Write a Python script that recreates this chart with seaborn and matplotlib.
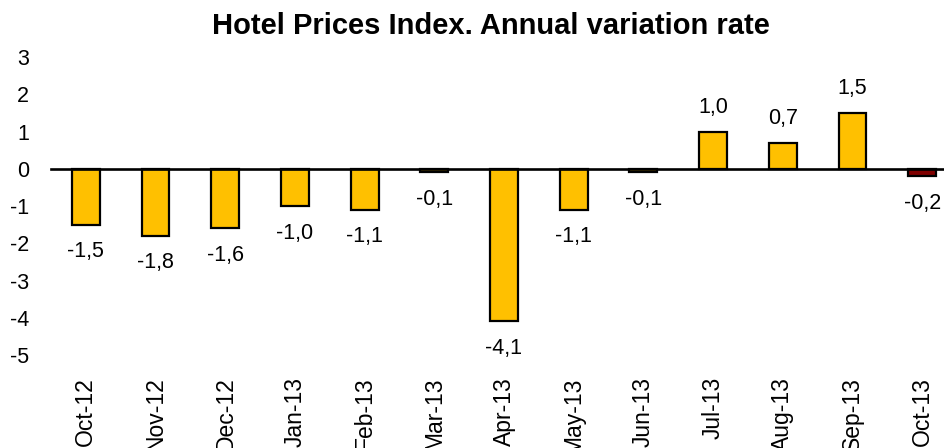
import matplotlib
matplotlib.use('Agg')
import matplotlib.pyplot as plt
import seaborn as sns
import pandas as pd

months = ['Oct-12', 'Nov-12', 'Dec-12', 'Jan-13', 'Feb-13', 'Mar-13', 'Apr-13',
          'May-13', 'Jun-13', 'Jul-13', 'Aug-13', 'Sep-13', 'Oct-13']
rates = [-1.5, -1.8, -1.6, -1.0, -1.1, -0.1, -4.1, -1.1, -0.1, 1.0, 0.7, 1.5, -0.2]
bar_cols = ['#FFC000'] * 12 + ['#800000']
yticks = [-5, -4, -3, -2, -1, 0, 1, 2, 3]

df = pd.DataFrame({'month': months, 'rate': rates})

sns.set_style('white')
plt.rcParams['font.family'] = ['Liberation Sans', 'DejaVu Sans']
plt.rcParams['text.color'] = 'black'
plt.rcParams['xtick.color'] = 'black'
plt.rcParams['ytick.color'] = 'black'
plt.rcParams['axes.edgecolor'] = 'black'

fig = plt.figure(figsize=(9.45, 4.48), dpi=100)
ax = fig.add_axes([51/945, 1 - 355/448, 906/945, 298/448])

sns.barplot(data=df, x='month', y='rate', hue='month', palette=bar_cols, width=0.4,
            edgecolor='black', linewidth=1.6, legend=False, ax=ax, saturation=1)

ax.set_ylim(-5, 3)
ax.set_xlim(-0.5, len(months) - 0.5)
ax.set_yticks(yticks)
ax.set_yticklabels([str(t) for t in yticks])
ax.tick_params(axis='y', length=0, pad=16, labelsize=15.5, labelcolor='black')
for s in ['top', 'right', 'left']:
    ax.spines[s].set_visible(False)

# zero line with category separators
ax.spines['bottom'].set_position(('data', 0))
ax.spines['bottom'].set_linewidth(1.9)
ax.spines['bottom'].set_color('black')
ax.spines['bottom'].set_zorder(5)
ax.set_xticks(range(len(months)))
ax.set_xticks([i - 0.5 for i in range(len(months) + 1)], minor=True)
ax.tick_params(axis='x', which='major', length=0, labelbottom=False)
ax.tick_params(axis='x', which='minor', length=4.5, width=1.2, direction='out', color='black')
ax.set_xlabel('')
ax.set_ylabel('')

# month labels along the bottom
sec = ax.secondary_xaxis('bottom')
sec.set_xticks(range(len(months)))
sec.set_xticklabels(months, rotation=90, fontsize=16.5, va='top', ha='center', color='black')
sec.tick_params(length=0, pad=16)
sec.spines['bottom'].set_visible(False)

for i, v in enumerate(rates):
    txt = f'{v:.1f}'.replace('.', ',')
    if v >= 0:
        ax.annotate(txt, (i, v), xytext=(0, 10), textcoords='offset points',
                    ha='center', va='bottom', fontsize=15.5, color='black')
    else:
        ax.annotate(txt, (i, v), xytext=(0, -12), textcoords='offset points',
                    ha='center', va='top', fontsize=15.5, color='black')

fig.text(491/945, 1 - 26/448, 'Hotel Prices Index. Annual variation rate',
         ha='center', va='center', fontsize=21, fontweight='bold', color='black')

fig.savefig('out.png', dpi=100)
